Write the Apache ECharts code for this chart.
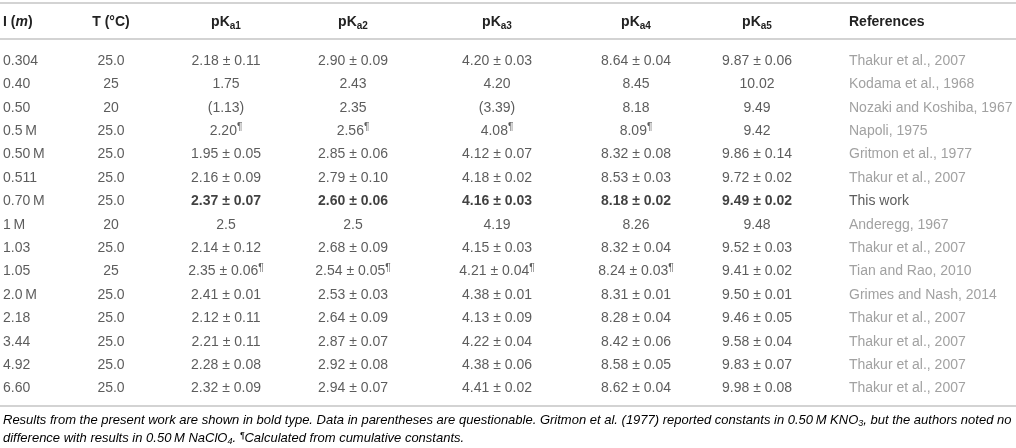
<!DOCTYPE html>
<html>
<head>
<meta charset="utf-8">
<script src="https://cdn.jsdelivr.net/npm/echarts@6/dist/echarts.min.js"></script>
<style>
html,body{margin:0;padding:0;background:#fff;}
#c{width:1016px;height:448px;}
</style>
</head>
<body>
<div id="c"></div>
<script>
// ---- data ----
var rowIonic = ['0.304','0.40','0.50','0.5\u2009M','0.50\u2009M','0.511','0.70\u2009M','1\u2009M','1.03','1.05','2.0\u2009M','2.18','3.44','4.92','6.60'];
var rowTemp = ['25.0','25','20','25.0','25.0','25.0','25.0','20','25.0','25','25.0','25.0','25.0','25.0','25.0'];
var pKa1 = ['2.18 ± 0.11','1.75','(1.13)','2.20¶','1.95 ± 0.05','2.16 ± 0.09','2.37 ± 0.07','2.5','2.14 ± 0.12','2.35 ± 0.06¶','2.41 ± 0.01','2.12 ± 0.11','2.21 ± 0.11','2.28 ± 0.08','2.32 ± 0.09'];
var pKa2 = ['2.90 ± 0.09','2.43','2.35','2.56¶','2.85 ± 0.06','2.79 ± 0.10','2.60 ± 0.06','2.5','2.68 ± 0.09','2.54 ± 0.05¶','2.53 ± 0.03','2.64 ± 0.09','2.87 ± 0.07','2.92 ± 0.08','2.94 ± 0.07'];
var pKa3 = ['4.20 ± 0.03','4.20','(3.39)','4.08¶','4.12 ± 0.07','4.18 ± 0.02','4.16 ± 0.03','4.19','4.15 ± 0.03','4.21 ± 0.04¶','4.38 ± 0.01','4.13 ± 0.09','4.22 ± 0.04','4.38 ± 0.06','4.41 ± 0.02'];
var pKa4 = ['8.64 ± 0.04','8.45','8.18','8.09¶','8.32 ± 0.08','8.53 ± 0.03','8.18 ± 0.02','8.26','8.32 ± 0.04','8.24 ± 0.03¶','8.31 ± 0.01','8.28 ± 0.04','8.42 ± 0.06','8.58 ± 0.05','8.62 ± 0.04'];
var pKa5 = ['9.87 ± 0.06','10.02','9.49','9.42','9.86 ± 0.14','9.72 ± 0.02','9.49 ± 0.02','9.48','9.52 ± 0.03','9.41 ± 0.02','9.50 ± 0.01','9.46 ± 0.05','9.58 ± 0.04','9.83 ± 0.07','9.98 ± 0.08'];
var references = ['Thakur et al., 2007','Kodama et al., 1968','Nozaki and Koshiba, 1967','Napoli, 1975','Gritmon et al., 1977','Thakur et al., 2007','This work','Anderegg, 1967','Thakur et al., 2007','Tian and Rao, 2010','Grimes and Nash, 2014','Thakur et al., 2007','Thakur et al., 2007','Thakur et al., 2007','Thakur et al., 2007'];
var headers = ['I ({i|m})','T (°C)','pK{sub|a1}','pK{sub|a2}','pK{sub|a3}','pK{sub|a4}','pK{sub|a5}','References'];
var boldRow = 6;

// ---- layout / style ----
var columns = [rowIonic,rowTemp,pKa1,pKa2,pKa3,pKa4,pKa5,references];
var colAnchor = [3,111,226,353,497,636,757,849];
var colAlign = ['left','center','center','center','center','center','center','left'];
var FONT = 'Liberation Sans, Arial, Helvetica, sans-serif';
var gridTop = 49.3, rowH = 23.4;
var rowKeys = rowIonic.map(function(_, i){ return String(i); });

var chart = echarts.init(document.getElementById('c'), null, {renderer:'canvas'});

function cellText(col, r){
  var s = columns[col][r];
  var sup = '';
  if (s.indexOf('¶') >= 0){ s = s.replace('¶',''); sup = '{sup|¶}'; }
  var style = 'n';
  if (col >= 2 && col <= 6 && r === boldRow) style = 'b';
  if (col === 7) style = (r === boldRow) ? 'n' : 'g';
  return '{' + style + '|' + s + '}' + sup;
}

var richCell = {
  n:{fontFamily:FONT,fontSize:14,color:'#333'},
  b:{fontFamily:FONT,fontSize:14,color:'#111',fontWeight:'bold'},
  g:{fontFamily:FONT,fontSize:14,color:'#8a8a8a'},
  sup:{fontFamily:FONT,fontSize:10,color:'#333',padding:[0,0,7,0]}
};
var richHead = {
  i:{fontFamily:FONT,fontSize:14,fontStyle:'italic',fontWeight:'bold',color:'#222'},
  sub:{fontFamily:FONT,fontSize:10,fontWeight:'bold',color:'#222',padding:[8,0,0,0]}
};

var grids = [], xAxes = [], yAxes = [], series = [];
columns.forEach(function(col, c){
  grids.push({left: colAnchor[c]-2, width: 4, top: gridTop, height: rowH*rowKeys.length, containLabel:false});
  xAxes.push({
    type:'category', gridIndex:c, position:'top', data:[headers[c]],
    axisLine:{show:false}, axisTick:{show:false}, splitLine:{show:false},
    axisLabel:{
      show:true, interval:0, margin:27.3, align: colAlign[c], verticalAlign:'middle',
      fontFamily:FONT, fontSize:14, fontWeight:'bold', color:'#222', rich: richHead
    }
  });
  yAxes.push({
    type:'category', gridIndex:c, inverse:true, data:rowKeys, show:false
  });
  series.push({
    type:'scatter', xAxisIndex:c, yAxisIndex:c, symbol:'circle', symbolSize:1,
    itemStyle:{color:'rgba(0,0,0,0)'}, silent:true, animation:false,
    data: col.map(function(_, r){ return [0, r]; }),
    label:{
      show:true, position:'inside', align: colAlign[c], verticalAlign:'middle',
      formatter:function(p){ return cellText(c, p.value[1]); },
      rich: richCell
    }
  });
});

var lineStyle = {stroke:'#c4c4c4', lineWidth:1.5};
var footRich = {
  t:{fontFamily:FONT,fontSize:13,fontStyle:'italic',color:'#444'},
  g:{fontFamily:FONT,fontSize:13,fontStyle:'italic',color:'#8a8a8a'},
  s:{fontFamily:FONT,fontSize:9,fontStyle:'italic',color:'#444',padding:[6,0,0,0]},
  p:{fontFamily:FONT,fontSize:9,fontStyle:'italic',color:'#444',padding:[0,0,6,0]}
};

chart.setOption({
  animation:false,
  grid: grids, xAxis: xAxes, yAxis: yAxes, series: series,
  graphic:[
    {type:'line', shape:{x1:0,y1:3,x2:1016,y2:3}, style:lineStyle, silent:true},
    {type:'line', shape:{x1:0,y1:39,x2:1016,y2:39}, style:lineStyle, silent:true},
    {type:'line', shape:{x1:0,y1:406,x2:1016,y2:406}, style:lineStyle, silent:true},
    {type:'text', left:3, top:414, silent:true, style:{
      text:'{t|Results from the present work are shown in bold type. Data in parentheses are questionable. }{g|Gritmon et al. (1977)}{t| reported constants in 0.50\u2009M KNO}{s|3}{t|, but the authors noted no}',
      rich: footRich
    }},
    {type:'text', left:3, top:431, silent:true, style:{
      text:'{t|difference with results in 0.50\u2009M NaClO}{s|4}{t|. }{p|¶}{t|Calculated from cumulative constants.}',
      rich: footRich
    }}
  ]
});
</script>
</body>
</html>
